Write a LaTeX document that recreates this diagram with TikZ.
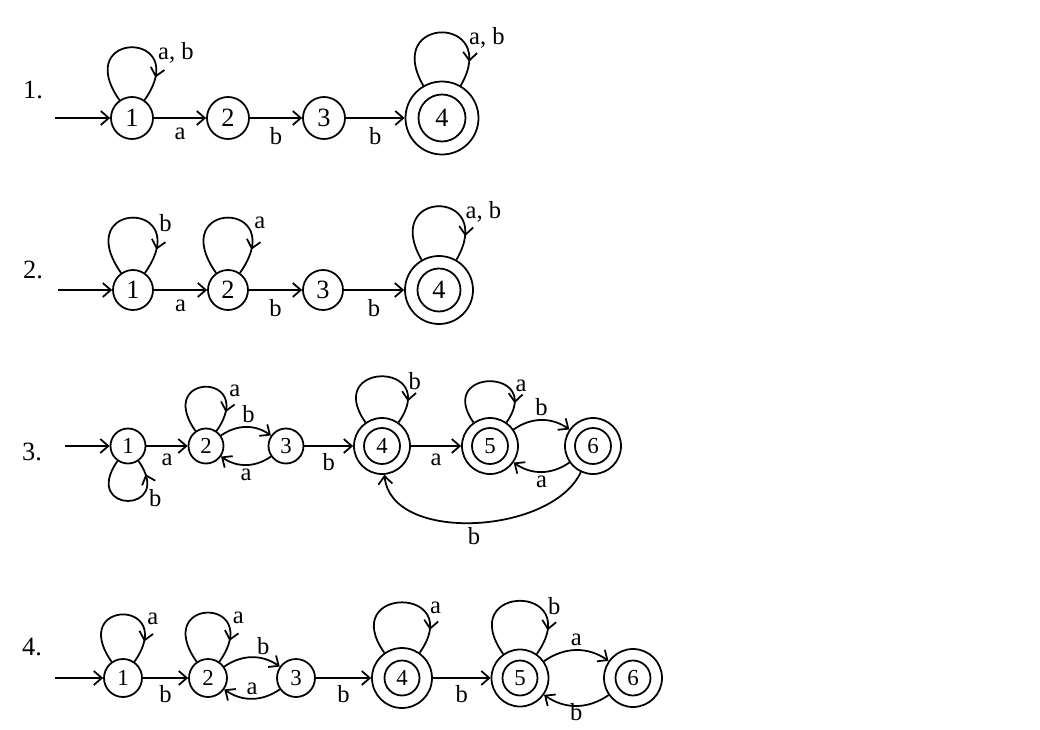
\documentclass[tikz,border=0pt]{standalone}
\usepackage{fontspec}
\setmainfont{Liberation Serif}
\usetikzlibrary{positioning,arrows.meta,decorations.markings}

\begin{document}
\begin{tikzpicture}[
line width=1pt,
>={Straight Barb[length=1.6mm,width=2.8mm]},
q/.style={circle, draw=black, fill=white, inner sep=0pt, minimum size=#1, font=\fontsize{15}{15}\selectfont},
qf/.style 2 args={circle, draw=black, fill=white, inner sep=0pt, minimum size=#1, font=\fontsize{15}{15}\selectfont,
  path picture={\draw[line width=1pt] (path picture bounding box.center) circle (#2);}},
small/.style={font=\fontsize{13}{13}\selectfont},
lbl/.style={font=\fontsize{14}{14}\selectfont, inner sep=2pt},
looplbl/.style={lbl, pos=0.66, anchor=west, xshift=3pt},
rowlbl/.style={font=\fontsize{15}{15}\selectfont},
loopmark/.style={postaction={decorate}, decoration={markings, mark=at position #1 with {\arrow{>}}}}
]
\useasboundingbox (0,0) rectangle (20.8,-14.6);

% 1.
\node[rowlbl](r1_lbl) at (0.66,-1.80){1.};
\coordinate (r1_start) at (1.10,-2.36);
\node[q=0.84cm](r1_q1) at (2.64,-2.36){1};
\node[q=0.84cm](r1_q2)[right of = r1_q1, node distance=1.92cm]{2};
\node[q=0.84cm](r1_q3)[right of = r1_q2, node distance=1.92cm]{3};
\node[qf={1.46cm}{0.47cm}](r1_q4)[right of = r1_q3, node distance=2.36cm]{4};

\draw[->] (r1_start) -- (r1_q1);
\draw[->] (r1_q1) -- (r1_q2) node[lbl, midway, below=3pt]{a};
\draw[->] (r1_q2) -- (r1_q3) node[lbl, midway, below=3pt]{b};
\draw[->] (r1_q3) -- (r1_q4) node[lbl, midway, below=3pt]{b};
\draw[loopmark=0.82] (r1_q1.125) .. controls +(125:1.72) and +(55:1.72) .. (r1_q1.55) node[looplbl]{a, b};
\draw[loopmark=0.82] (r1_q4.120) .. controls +(120:1.64) and +(60:1.64) .. (r1_q4.60) node[looplbl]{a, b};

% 2.
\node[rowlbl](r2_lbl) at (0.66,-5.40){2.};
\coordinate (r2_start) at (1.16,-5.80);
\node[q=0.80cm](r2_q1) at (2.66,-5.80){1};
\node[q=0.80cm](r2_q2)[right of = r2_q1, node distance=1.90cm]{2};
\node[q=0.80cm](r2_q3)[right of = r2_q2, node distance=1.90cm]{3};
\node[qf={1.36cm}{0.43cm}](r2_q4)[right of = r2_q3, node distance=2.32cm]{4};

\draw[->] (r2_start) -- (r2_q1);
\draw[->] (r2_q1) -- (r2_q2) node[lbl, midway, below=3pt]{a};
\draw[->] (r2_q2) -- (r2_q3) node[lbl, midway, below=3pt]{b};
\draw[->] (r2_q3) -- (r2_q4) node[lbl, midway, below=3pt]{b};
\draw[loopmark=0.82] (r2_q1.125) .. controls +(125:1.8) and +(55:1.8) .. (r2_q1.55) node[looplbl]{b};
\draw[loopmark=0.82] (r2_q2.125) .. controls +(125:1.8) and +(55:1.8) .. (r2_q2.55) node[looplbl]{a};
\draw[loopmark=0.82] (r2_q4.120) .. controls +(120:1.65) and +(60:1.65) .. (r2_q4.60) node[looplbl]{a, b};

% 3.
\node[rowlbl](r3_lbl) at (0.64,-9.04){3.};
\coordinate (r3_start) at (1.30,-8.92);
\node[q=0.70cm, small](r3_q1) at (2.56,-8.92){1};
\node[q=0.70cm, small](r3_q2)[right of = r3_q1, node distance=1.56cm]{2};
\node[q=0.70cm, small](r3_q3)[right of = r3_q2, node distance=1.60cm]{3};
\node[qf={1.12cm}{0.36cm}, small](r3_q4)[right of = r3_q3, node distance=1.92cm]{4};
\node[qf={1.12cm}{0.36cm}, small](r3_q5)[right of = r3_q4, node distance=2.16cm]{5};
\node[qf={1.12cm}{0.36cm}, small](r3_q6)[right of = r3_q5, node distance=2.06cm]{6};

\draw[->] (r3_start) -- (r3_q1);
\draw[->] (r3_q1) -- (r3_q2) node[lbl, midway, below=2pt]{a};
\draw[->] (r3_q2) to[bend left=35] node[lbl, above, pos=0.55]{b} (r3_q3);
\draw[->] (r3_q3) to[bend left=35] node[lbl, below]{a} (r3_q2);
\draw[->] (r3_q3) -- (r3_q4) node[lbl, midway, below=2pt]{b};
\draw[->] (r3_q4) -- (r3_q5) node[lbl, midway, below=2pt]{a};
\draw[->] (r3_q5) to[bend left=35] node[lbl, above]{b} (r3_q6);
\draw[->] (r3_q6) to[bend left=35] node[lbl, below]{a} (r3_q5);
\draw[->] (r3_q6) to[out=-115, in=-85, looseness=0.9] node[lbl, below]{b} (r3_q4);
\draw[loopmark=0.86] (r3_q1.-125) .. controls +(-125:1.3) and +(-55:1.3) .. (r3_q1.-55) node[lbl, pos=0.64, anchor=west, xshift=3pt]{b};
\draw[loopmark=0.82] (r3_q2.125) .. controls +(125:1.44) and +(55:1.44) .. (r3_q2.55) node[looplbl]{a};
\draw[loopmark=0.82] (r3_q4.125) .. controls +(125:1.5) and +(55:1.5) .. (r3_q4.55) node[looplbl]{b};
\draw[loopmark=0.82] (r3_q5.125) .. controls +(125:1.34) and +(55:1.34) .. (r3_q5.55) node[looplbl]{a};

% 4.
\node[rowlbl](r4_lbl) at (0.64,-12.94){4.};
\coordinate (r4_start) at (1.10,-13.56);
\node[q=0.76cm, small](r4_q1) at (2.46,-13.56){1};
\node[q=0.76cm, small](r4_q2)[right of = r4_q1, node distance=1.70cm]{2};
\node[q=0.76cm, small](r4_q3)[right of = r4_q2, node distance=1.76cm]{3};
\node[qf={1.20cm}{0.35cm}, small](r4_q4)[right of = r4_q3, node distance=2.12cm]{4};
\node[qf={1.14cm}{0.35cm}, small](r4_q5)[right of = r4_q4, node distance=2.36cm]{5};
\node[qf={1.16cm}{0.35cm}, small](r4_q6)[right of = r4_q5, node distance=2.26cm]{6};

\draw[->] (r4_start) -- (r4_q1);
\draw[->] (r4_q1) -- (r4_q2) node[lbl, midway, below=2pt]{b};
\draw[->] (r4_q2) to[bend left=35] node[lbl, above, pos=0.7]{b} (r4_q3);
\draw[->] (r4_q3) to[bend left=35] node[lbl, above]{a} (r4_q2);
\draw[->] (r4_q3) -- (r4_q4) node[lbl, midway, below=2pt]{b};
\draw[->] (r4_q4) -- (r4_q5) node[lbl, midway, below=2pt]{b};
\draw[->] (r4_q5) to[bend left=35] node[lbl, above]{a} (r4_q6);
\draw[->] (r4_q6) to[bend left=35] node[lbl, below=-4pt]{b} (r4_q5);
\draw[loopmark=0.82] (r4_q1.125) .. controls +(125:1.54) and +(55:1.54) .. (r4_q1.55) node[looplbl]{a};
\draw[loopmark=0.82] (r4_q2.125) .. controls +(125:1.6) and +(55:1.6) .. (r4_q2.55) node[looplbl]{a};
\draw[loopmark=0.82] (r4_q4.125) .. controls +(125:1.64) and +(55:1.64) .. (r4_q4.55) node[looplbl]{a};
\draw[loopmark=0.82] (r4_q5.125) .. controls +(125:1.73) and +(55:1.73) .. (r4_q5.55) node[looplbl]{b};

\end{tikzpicture}
\end{document}
